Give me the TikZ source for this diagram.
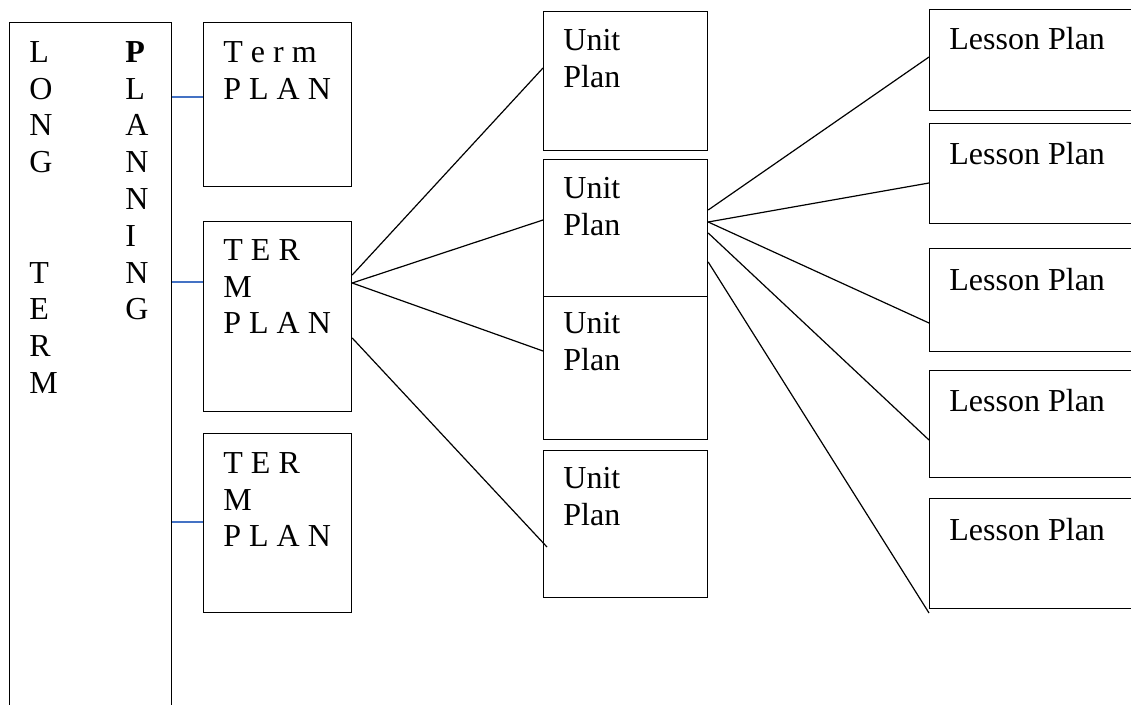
\documentclass[tikz,border=0pt]{standalone}
\usepackage{fontspec}
\setmainfont{Liberation Serif}
\usetikzlibrary{calc}
\definecolor{wordblue}{HTML}{4472C4}

\begin{document}
\begin{tikzpicture}[x = 0.5pt, y = -0.5pt,
    box/.style = {draw, line width = 0.6pt, anchor = north west, inner sep = 0pt},
    txt/.style = {anchor = north west, inner sep = 0pt, align = left,
      font = \fontsize{16}{18.4}\selectfont},
    feed/.style = {draw = wordblue, line width = 0.7pt},
    fan/.style = {draw, line width = 0.6pt}]
            \useasboundingbox (0,0) rectangle (1131,705);
            \clip (0,0) rectangle (1131,705);
            \node[box, minimum width = 81pt, minimum height = 349pt] (longterm) at (9,22) {};
            \node[txt] (longtxt) at ($(longterm.north west)+(20,19)$)
              {L\\O\\N\\G\\~\\~\\T\\E\\R\\M};
            \node[txt] (plantxt) at ($(longterm.north west)+(116,19)$)
              {\textbf{P}\\L\\A\\N\\N\\I\\N\\G};
            \node[box, minimum width = 74pt, minimum height = 82pt] (term1) at (203,22) {};
            \node[box, minimum width = 74pt, minimum height = 95pt] (term2) at (203,221) {};
            \node[box, minimum width = 74pt, minimum height = 89.5pt] (term3) at (203,433) {};
            \node[txt] (term1txt) at ($(term1.north west)+(20,19)$) {T e r m\\P L A N};
            \node[txt] (term2txt) at ($(term2.north west)+(20,18)$) {T E R\\M\\P L A N};
            \node[txt] (term3txt) at ($(term3.north west)+(20,19)$) {T E R\\M\\P L A N};
            \node[box, minimum width = 82pt, minimum height = 69.5pt] (unit1) at (543,11) {};
            \node[box, minimum width = 82pt, minimum height = 68.5pt] (unit2) at (543,159) {};
            \node[box, minimum width = 82pt, minimum height = 71.5pt] (unit3) at (543,296) {};
            \node[box, minimum width = 82pt, minimum height = 73.5pt] (unit4) at (543,450) {};
            \node[txt] (unit1txt) at ($(unit1.north west)+(20,18)$) {Unit\\Plan};
            \node[txt] (unit2txt) at ($(unit2.north west)+(20,18)$) {Unit\\Plan};
            \node[txt] (unit3txt) at ($(unit3.north west)+(20,16)$) {Unit\\Plan};
            \node[txt] (unit4txt) at ($(unit4.north west)+(20,17)$) {Unit\\Plan};
            \node[box, minimum width = 110.5pt, minimum height = 50.5pt] (lesson1) at (929,9) {};
            \node[box, minimum width = 110.5pt, minimum height = 50pt] (lesson2) at (929,123) {};
            \node[box, minimum width = 110.5pt, minimum height = 51.5pt] (lesson3) at (929,248) {};
            \node[box, minimum width = 110.5pt, minimum height = 53.5pt] (lesson4) at (929,370) {};
            \node[box, minimum width = 110.5pt, minimum height = 55pt] (lesson5) at (929,498) {};
            \node[txt] (lesson1txt) at ($(lesson1.north west)+(20,18)$) {Lesson Plan};
            \node[txt] (lesson2txt) at ($(lesson2.north west)+(20,19)$) {Lesson Plan};
            \node[txt] (lesson3txt) at ($(lesson3.north west)+(20,20)$) {Lesson Plan};
            \node[txt] (lesson4txt) at ($(lesson4.north west)+(20,19)$) {Lesson Plan};
            \node[txt] (lesson5txt) at ($(lesson5.north west)+(20,20)$) {Lesson Plan};
            \coordinate (t1in) at ($(term1.north west)+(0,75)$);
            \coordinate (t2in) at ($(term2.north west)+(0,61)$);
            \coordinate (t3in) at ($(term3.north west)+(0,89)$);
            \draw[feed] (longterm.east |- t1in) -- (t1in);
            \draw[feed] (longterm.east |- t2in) -- (t2in);
            \draw[feed] (longterm.east |- t3in) -- (t3in);
            \draw[fan] ($(term2.north east)+(0,54)$) -- ($(unit1.north west)+(0,57)$);
            \draw[fan] ($(term2.north east)+(0,62)$) -- ($(unit2.north west)+(0,61)$);
            \draw[fan] ($(term2.north east)+(0,62)$) -- ($(unit3.north west)+(0,55)$);
            \draw[fan] ($(term2.north east)+(0,117)$) -- ($(unit4.north west)+(4,97)$);
            \draw[fan] ($(unit2.north east)+(0,51)$) -- ($(lesson1.north west)+(0,48)$);
            \draw[fan] ($(unit2.north east)+(0,63)$) -- ($(lesson2.north west)+(0,60)$);
            \draw[fan] ($(unit2.north east)+(0,63)$) -- ($(lesson3.north west)+(0,75)$);
            \draw[fan] ($(unit2.north east)+(0,74)$) -- ($(lesson4.north west)+(0,70)$);
            \draw[fan] ($(unit2.north east)+(0,103)$) -- ($(lesson5.north west)+(0,115)$);
        \end{tikzpicture}
\end{document}
